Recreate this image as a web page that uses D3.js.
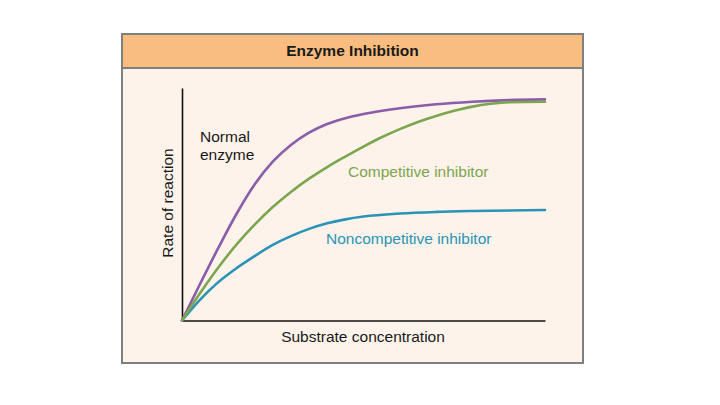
<!DOCTYPE html>
<html>
<head>
<meta charset="utf-8">
<script src="https://cdn.jsdelivr.net/npm/d3@7"></script>
<style>
  html, body { margin: 0; padding: 0; background: #ffffff; }
  svg { display: block; font-family: "Liberation Sans", Arial, sans-serif; }
</style>
</head>
<body>
<svg id="chart" width="720" height="405"></svg>
<script>
// ---- data (x = substrate concentration, y = rate, relative units) ----
const title = "Enzyme Inhibition";
const xLabel = "Substrate concentration";
const yLabel = "Rate of reaction";

const normalX = [0, 0.5, 1, 1.5, 2, 2.5, 3, 3.5, 4, 4.5, 5, 6, 7, 8, 9, 10];
const normalY = [0, 0.158, 0.312, 0.458, 0.585, 0.683, 0.755, 0.808, 0.845, 0.870, 0.888, 0.913, 0.930, 0.941, 0.948, 0.951];

const competitiveX = [0, 0.5, 1, 1.5, 2, 2.5, 3, 3.5, 4, 4.5, 5, 5.5, 6, 6.5, 7, 7.5, 8, 8.5, 9, 10];
const competitiveY = [0, 0.118, 0.228, 0.326, 0.412, 0.488, 0.553, 0.610, 0.660, 0.705, 0.748, 0.788, 0.823, 0.854, 0.880, 0.902, 0.920, 0.932, 0.939, 0.941];

const noncompetitiveX = [0, 0.5, 1, 1.5, 2, 2.5, 3, 3.5, 4, 4.5, 5, 6, 7, 8, 10];
const noncompetitiveY = [0, 0.090, 0.165, 0.225, 0.277, 0.325, 0.363, 0.394, 0.418, 0.435, 0.447, 0.460, 0.467, 0.471, 0.475];

const seriesNames = ["Normal enzyme", "Competitive inhibitor", "Noncompetitive inhibitor"];
const seriesColors = ["#8b5ca8", "#7ba64e", "#2a93b6"];

// ---- layout ----
const svg = d3.select("#chart");
const box = { x: 122, y: 34, w: 461, h: 329, headerH: 34 };

svg.append("rect")
  .attr("x", box.x).attr("y", box.y).attr("width", box.w).attr("height", box.h)
  .attr("fill", "#fdf3ea").attr("stroke", "#7f7f7f").attr("stroke-width", 2);
svg.append("rect")
  .attr("x", box.x).attr("y", box.y).attr("width", box.w).attr("height", box.headerH)
  .attr("fill", "#f9bd7f").attr("stroke", "#7f7f7f").attr("stroke-width", 2);
svg.append("text")
  .attr("x", box.x + box.w / 2).attr("y", 56)
  .attr("text-anchor", "middle").attr("font-size", 15.5).attr("font-weight", "bold")
  .attr("fill", "#1a1a1a").text(title);

const plot = { left: 182, right: 545, top: 88, bottom: 320.5 };
const x = d3.scaleLinear().domain([0, 10]).range([plot.left, plot.right]);
const y = d3.scaleLinear().domain([0, 1]).range([plot.bottom, plot.top]);

// axes (no ticks)
const xAxis = d3.axisBottom(x).tickValues([]).tickSizeOuter(0);
const yAxis = d3.axisLeft(y).tickValues([]).tickSizeOuter(0);
svg.append("g").attr("transform", `translate(0,${plot.bottom})`).call(xAxis)
  .select(".domain").attr("stroke", "#111").attr("stroke-width", 1.6);
svg.append("g").attr("transform", `translate(${plot.left},0)`).call(yAxis)
  .select(".domain").attr("stroke", "#111").attr("stroke-width", 1.6);

svg.append("text")
  .attr("x", 363).attr("y", 342)
  .attr("text-anchor", "middle").attr("font-size", 15.5).attr("fill", "#1a1a1a")
  .text(xLabel);
svg.append("text")
  .attr("transform", "translate(173,203) rotate(-90)")
  .attr("text-anchor", "middle").attr("font-size", 15.5).attr("fill", "#1a1a1a")
  .text(yLabel);

// curves
const line = d3.line().x(d => x(d[0])).y(d => y(d[1])).curve(d3.curveMonotoneX);
const series = [
  d3.zip(normalX, normalY),
  d3.zip(competitiveX, competitiveY),
  d3.zip(noncompetitiveX, noncompetitiveY)
];
[2, 0, 1].forEach(i => {
  svg.append("path")
    .datum(series[i])
    .attr("d", line)
    .attr("fill", "none")
    .attr("stroke", seriesColors[i])
    .attr("stroke-width", 2.6)
    .attr("stroke-linecap", "round")
    .attr("stroke-linejoin", "round");
});

// labels
const normalLbl = svg.append("text").attr("font-size", 15.5).attr("fill", "#1a1a1a");
normalLbl.append("tspan").attr("x", 200).attr("y", 142).text("Normal");
normalLbl.append("tspan").attr("x", 200).attr("y", 159.5).text("enzyme");

svg.append("text")
  .attr("x", 348).attr("y", 177).attr("font-size", 15.5).attr("fill", seriesColors[1])
  .text(seriesNames[1]);
svg.append("text")
  .attr("x", 326).attr("y", 243.5).attr("font-size", 15.5).attr("fill", seriesColors[2])
  .text(seriesNames[2]);
</script>
</body>
</html>
